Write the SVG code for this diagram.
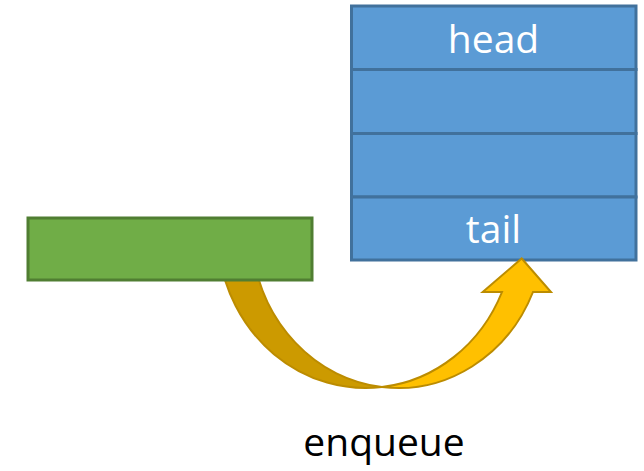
<svg xmlns="http://www.w3.org/2000/svg" width="644" height="471" viewBox="0 0 644 471">
  <style>
    .cell { fill: #5B9BD5; stroke: #41719C; stroke-width: 3; }
    .item { fill: #70AD47; stroke: #507E32; stroke-width: 3; }
    .label { font-family: "Open Sans", "Noto Sans", sans-serif; text-anchor: middle; }
    .white { fill: #FFFFFF; font-size: 39px; }
    .caption { fill: #000000; font-size: 39px; }
    .arrow-back { fill: #CC9A00; stroke: #BC8C00; stroke-width: 2; stroke-linejoin: round; }
    .arrow-front { fill: #FFC000; stroke: #BC8C00; stroke-width: 2; stroke-linejoin: miter; }
  </style>

  <!-- queue cells -->
  <g id="queue">
    <g id="cell-head">
      <rect class="cell" x="351.5" y="6" width="284.5" height="63.5"/>
      <text class="label white" x="493.5" y="53">head</text>
    </g>
    <g id="cell-2">
      <rect class="cell" x="351.5" y="69.5" width="284.5" height="64"/>
    </g>
    <g id="cell-3">
      <rect class="cell" x="351.5" y="133.5" width="284.5" height="63.5"/>
    </g>
    <g id="cell-tail">
      <rect class="cell" x="351.5" y="197" width="284.5" height="63"/>
      <text class="label white" x="493.5" y="243">tail</text>
    </g>
  </g>

  <!-- curved enqueue arrow -->
  <g id="connectors">
    <path class="arrow-back" d="M 218.6 250 A 148.2 158 0 0 0 381.9 387.05 A 146.6 158 0 0 1 252.7 250 Z"/>
    <path class="arrow-front" d="M 381.9 387.05 A 146.6 158 0 0 0 533 292 L 551 292 L 521.7 258.5 L 482.7 292 L 502 292 A 148.2 158 0 0 1 381.9 387.05 Z"/>
  </g>

  <!-- element being enqueued -->
  <g id="new-item">
    <rect class="item" x="28" y="218" width="284" height="62"/>
  </g>

  <g id="caption">
    <text class="label caption" x="384" y="456">enqueue</text>
  </g>
</svg>
